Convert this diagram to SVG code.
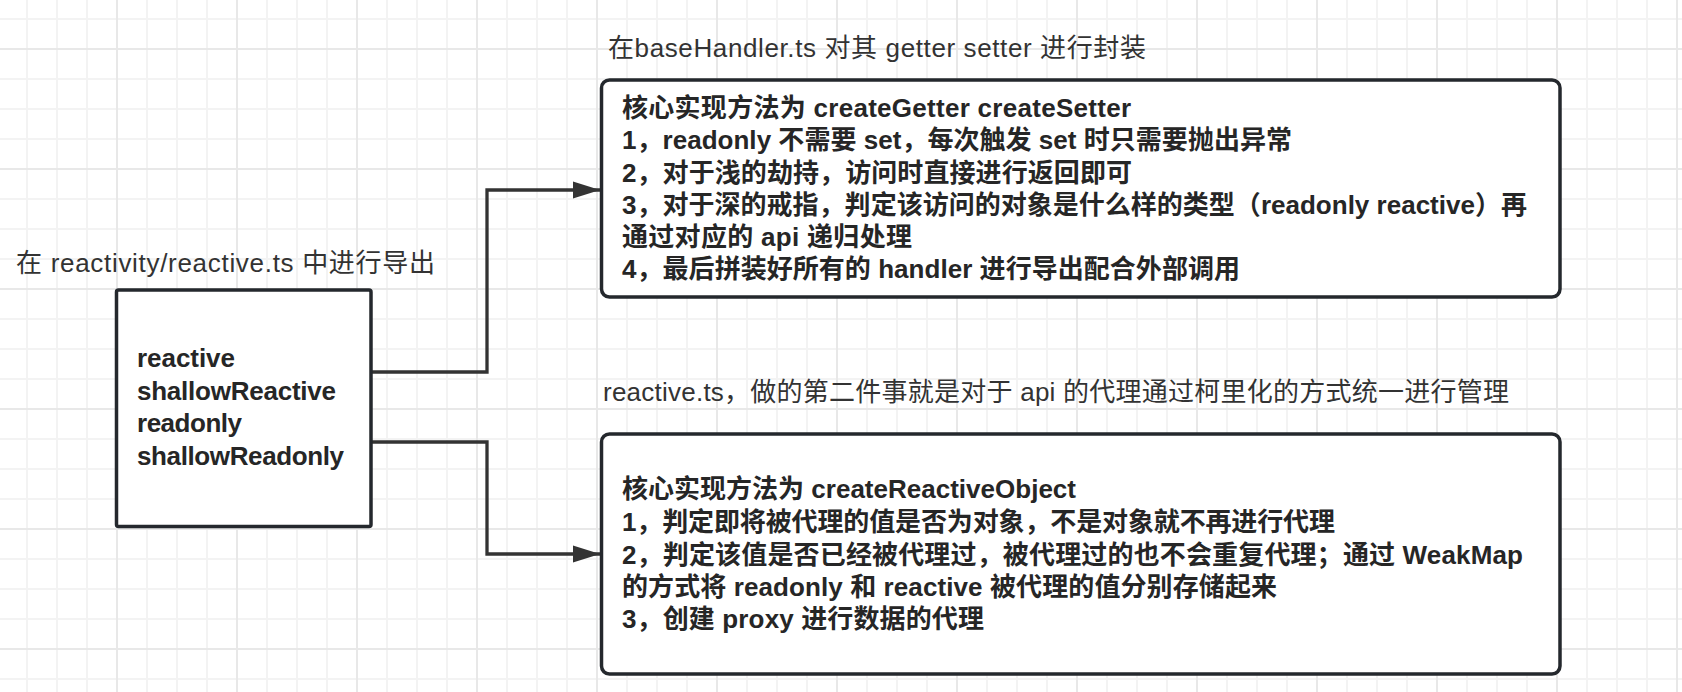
<svg xmlns="http://www.w3.org/2000/svg" width="1682" height="692" viewBox="0 0 1682 692">
<style>
.lbl{font-family:"Liberation Sans","Noto Sans CJK SC",sans-serif;font-size:26px;fill:#333333;}
.txt{font-family:"Liberation Sans","Noto Sans CJK SC",sans-serif;font-size:26px;font-weight:bold;fill:#262626;}
.box{fill:#ffffff;stroke:#24282d;stroke-width:3.5;}
.conn{fill:none;stroke:#333333;stroke-width:3.3;stroke-linejoin:miter;}
</style>
<defs>
<pattern id="grid" patternUnits="userSpaceOnUse" x="-4" y="-72" width="120" height="120">
<rect width="120" height="120" fill="#ffffff"/>
<rect x="30" y="0" width="2" height="120" fill="#f3f3f3"/>
<rect x="60" y="0" width="2" height="120" fill="#f3f3f3"/>
<rect x="90" y="0" width="2" height="120" fill="#f3f3f3"/>
<rect x="0" y="30" width="120" height="2" fill="#f3f3f3"/>
<rect x="0" y="60" width="120" height="2" fill="#f3f3f3"/>
<rect x="0" y="90" width="120" height="2" fill="#f3f3f3"/>
<rect x="0" y="0" width="2" height="120" fill="#e8e8e8"/>
<rect x="0" y="0" width="120" height="2" fill="#e8e8e8"/>
</pattern>
<marker id="arrow" markerUnits="userSpaceOnUse" markerWidth="28" markerHeight="18" refX="27" refY="9" orient="auto">
<path d="M0,0.5 L27,9 L0,17.5 Z" fill="#333333"/>
</marker>
</defs>
<rect x="0" y="0" width="1682" height="692" fill="url(#grid)"/>

<g id="connectors">
<path class="conn" d="M371,372 H487 V190 H600" marker-end="url(#arrow)"/>
<path class="conn" d="M371,442 H487 V554 H600" marker-end="url(#arrow)"/>
</g>

<g id="label-exports">
<text class="lbl" x="16" y="272" textLength="419">在 reactivity/reactive.ts 中进行导出</text>
</g>

<g id="node-api">
<rect class="box" x="116.5" y="290" width="254.5" height="236.5" rx="2"/>
<text class="txt" x="137" y="367" textLength="98">reactive</text>
<text class="txt" x="137" y="399.5" textLength="199">shallowReactive</text>
<text class="txt" x="137" y="432" textLength="105">readonly</text>
<text class="txt" x="137" y="464.5" textLength="207">shallowReadonly</text>
</g>

<g id="label-basehandler">
<text class="lbl" x="608" y="57" textLength="538">在baseHandler.ts 对其 getter setter 进行封装</text>
</g>

<g id="node-basehandler">
<rect class="box" x="601.5" y="80" width="958.5" height="217" rx="8"/>
<text class="txt" x="622" y="117" textLength="509">核心实现方法为 createGetter createSetter</text>
<text class="txt" x="622" y="149" textLength="670">1，readonly 不需要 set，每次触发 set 时只需要抛出异常</text>
<text class="txt" x="622" y="181.5" textLength="510">2，对于浅的劫持，访问时直接进行返回即可</text>
<text class="txt" x="622" y="213.5" textLength="905">3，对于深的戒指，判定该访问的对象是什么样的类型（readonly reactive）再</text>
<text class="txt" x="622" y="246" textLength="290">通过对应的 api 递归处理</text>
<text class="txt" x="622" y="278" textLength="618">4，最后拼装好所有的 handler 进行导出配合外部调用</text>
</g>

<g id="label-reactive">
<text class="lbl" x="603" y="401" textLength="906">reactive.ts，做的第二件事就是对于 api 的代理通过柯里化的方式统一进行管理</text>
</g>

<g id="node-reactive">
<rect class="box" x="601.5" y="434" width="958.5" height="240" rx="8"/>
<text class="txt" x="622" y="498" textLength="454">核心实现方法为 createReactiveObject</text>
<text class="txt" x="622" y="531" textLength="713">1，判定即将被代理的值是否为对象，不是对象就不再进行代理</text>
<text class="txt" x="622" y="563.5" textLength="901">2，判定该值是否已经被代理过，被代理过的也不会重复代理；通过 WeakMap</text>
<text class="txt" x="622" y="596" textLength="655">的方式将 readonly 和 reactive 被代理的值分别存储起来</text>
<text class="txt" x="622" y="628" textLength="362">3，创建 proxy 进行数据的代理</text>
</g>
</svg>
